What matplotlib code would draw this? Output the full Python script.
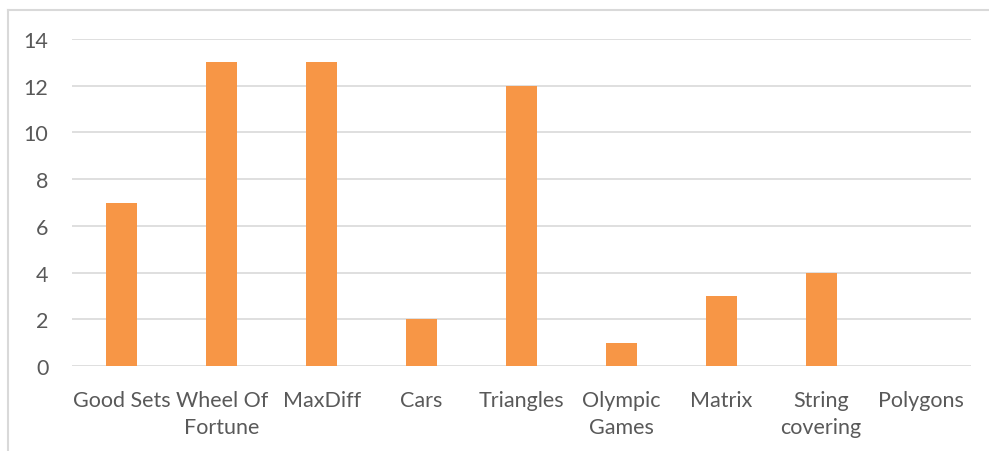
import matplotlib.pyplot as plt
from matplotlib.lines import Line2D

categories = ['Good Sets', 'Wheel Of\nFortune', 'MaxDiff', 'Cars', 'Triangles',
              'Olympic\nGames', 'Matrix', 'String\ncovering', 'Polygons']
values = [7, 13, 13, 2, 12, 1, 3, 4, 0]
yticks = [0, 2, 4, 6, 8, 10, 12, 14]

plt.rcParams['font.family'] = ['Lato', 'DejaVu Sans']
txt = '#595959'
grid = '#d9d9d9'

fig = plt.figure(figsize=(9.89, 4.52), dpi=100)
ax = fig.add_axes([72 / 989, 1 - 367 / 452, 899 / 989, 327 / 452])

x = range(len(categories))
ax.bar(x, values, width=0.31, color='#F79646', zorder=3)

ax.set_xlim(-0.5, len(categories) - 0.5)
ax.set_ylim(0, 14)
ax.set_yticks(yticks)
ax.set_xticks(list(x))
ax.set_xticklabels(categories)
for lbl in ax.get_xticklabels():
    lbl.set_linespacing(1.45)
ax.grid(axis='y', color=grid, linewidth=1.2, zorder=0)
for s in ax.spines.values():
    s.set_visible(False)
ax.tick_params(axis='both', length=0, labelsize=15.5, labelcolor=txt)
ax.tick_params(axis='y', pad=17)
ax.tick_params(axis='x', pad=17)

# chart border (top and left visible)
fig.add_artist(Line2D([8 / 989, 8 / 989], [0, 1 - 11 / 452], color=grid, lw=1.5, transform=fig.transFigure))
fig.add_artist(Line2D([8 / 989, 1], [1 - 11 / 452, 1 - 11 / 452], color=grid, lw=1.5, transform=fig.transFigure))

fig.savefig('out.png', dpi=100)
